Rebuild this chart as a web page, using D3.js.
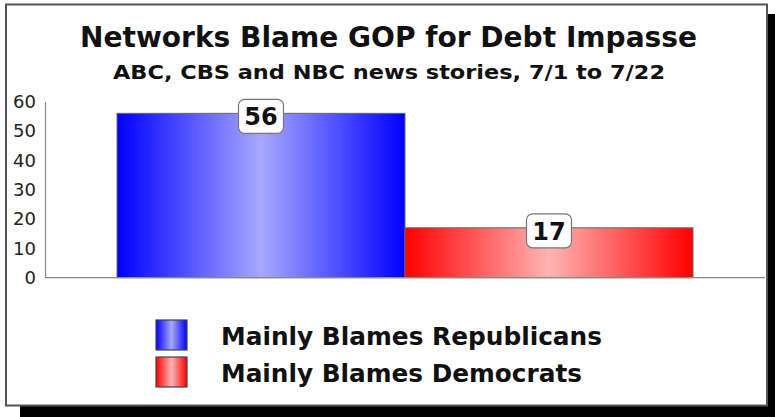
<!DOCTYPE html>
<html><head><meta charset="utf-8">
<script src="https://cdn.jsdelivr.net/npm/d3@7"></script>
<style>html,body{margin:0;padding:0;background:#fff;}svg{display:block;}</style>
</head><body>
<script>
const categories = ["Mainly Blames Republicans", "Mainly Blames Democrats"];
const values = [56, 17];
const yTicks = [0, 10, 20, 30, 40, 50, 60];
const title = "Networks Blame GOP for Debt Impasse";
const subtitle = "ABC, CBS and NBC news stories, 7/1 to 7/22";
const edgeColors = ["#0000ff", "#ff0000"];
const midColors = ["#a8a8ff", "#ffb4b4"];

const W = 775, H = 417;
const svg = d3.select("body").append("svg").attr("width", W).attr("height", H);
const defs = svg.append("defs");
categories.forEach((c, i) => {
  const g = defs.append("linearGradient").attr("id", "grad" + i).attr("x1", "0%").attr("x2", "100%").attr("y1", "0%").attr("y2", "0%");
  g.append("stop").attr("offset", "0%").attr("stop-color", edgeColors[i]);
  g.append("stop").attr("offset", "50%").attr("stop-color", midColors[i]);
  g.append("stop").attr("offset", "100%").attr("stop-color", edgeColors[i]);
});

// shadow + panel
svg.append("rect").attr("x", 20).attr("y", 14).attr("width", 755).attr("height", 403).attr("fill", "#000");
svg.append("rect").attr("x", 6).attr("y", 4.5).attr("width", 761).attr("height", 401)
  .attr("fill", "#fff").attr("stroke", "#555").attr("stroke-width", 2);

const font = "'DejaVu Sans Condensed','DejaVu Sans',Verdana,sans-serif";
svg.append("text").attr("x", 388.5).attr("y", 47).attr("text-anchor", "middle")
  .attr("font-family", font).attr("font-weight", "bold").attr("font-size", 28)
  .attr("textLength", 617).attr("lengthAdjust", "spacingAndGlyphs").attr("fill", "#111").text(title);
svg.append("text").attr("x", 389).attr("y", 79).attr("text-anchor", "middle")
  .attr("font-family", font).attr("font-weight", "bold").attr("font-size", 20)
  .attr("textLength", 552).attr("lengthAdjust", "spacingAndGlyphs").attr("fill", "#111").text(subtitle);

const x = d3.scaleBand().domain(categories).range([45, 765]).paddingInner(0).paddingOuter(0.25);
const y = d3.scaleLinear().domain([0, 60]).range([277.7, 101.6]);

// y axis
const yAxis = d3.axisLeft(y).tickValues(yTicks).tickSize(0).tickPadding(9);
const ya = svg.append("g").attr("transform", "translate(45,0)").call(yAxis);
ya.select(".domain").attr("stroke", "#888").attr("stroke-width", 1.2);
ya.selectAll("text").attr("font-family", "'DejaVu Sans',Verdana,sans-serif").attr("font-size", 18).attr("fill", "#222");

// bars
svg.selectAll("rect.bar").data(values).enter().append("rect").attr("class", "bar")
  .attr("x", (d, i) => x(categories[i])).attr("width", x.bandwidth())
  .attr("y", d => y(d)).attr("height", d => y(0) - y(d))
  .attr("fill", (d, i) => `url(#grad${i})`).attr("stroke", "#666").attr("stroke-width", 1);

// x axis line
svg.append("line").attr("x1", 45).attr("x2", 765).attr("y1", y(0)).attr("y2", y(0)).attr("stroke", "#888").attr("stroke-width", 1.2);

// value labels
const lab = svg.selectAll("g.lab").data(values).enter().append("g").attr("class", "lab")
  .attr("transform", (d, i) => `translate(${x(categories[i]) + x.bandwidth() / 2},${y(d) + 3})`);
lab.append("rect").attr("x", -22.5).attr("y", -17).attr("width", 45).attr("height", 34).attr("rx", 6)
  .attr("fill", "#fff").attr("stroke", "#777").attr("stroke-width", 1.2);
lab.append("text").attr("text-anchor", "middle").attr("dy", 9)
  .attr("font-family", "'DejaVu Sans',Verdana,sans-serif").attr("font-weight", "bold").attr("font-size", 24)
  .attr("fill", "#111").text(d => d);

// legend
const leg = svg.selectAll("g.leg").data(categories).enter().append("g").attr("class", "leg")
  .attr("transform", (d, i) => `translate(156,${320 + i * 37})`);
leg.append("rect").attr("width", 31).attr("height", 30).attr("fill", (d, i) => `url(#grad${i})`)
  .attr("stroke", "#444").attr("stroke-width", 1.2);
leg.append("text").attr("x", 65).attr("y", 25).attr("font-family", font).attr("font-weight", "bold")
  .attr("font-size", 25).attr("fill", "#111")
  .attr("textLength", (d, i) => i === 0 ? 381 : 361).attr("lengthAdjust", "spacingAndGlyphs").text(d => d);
</script>
</body></html>
